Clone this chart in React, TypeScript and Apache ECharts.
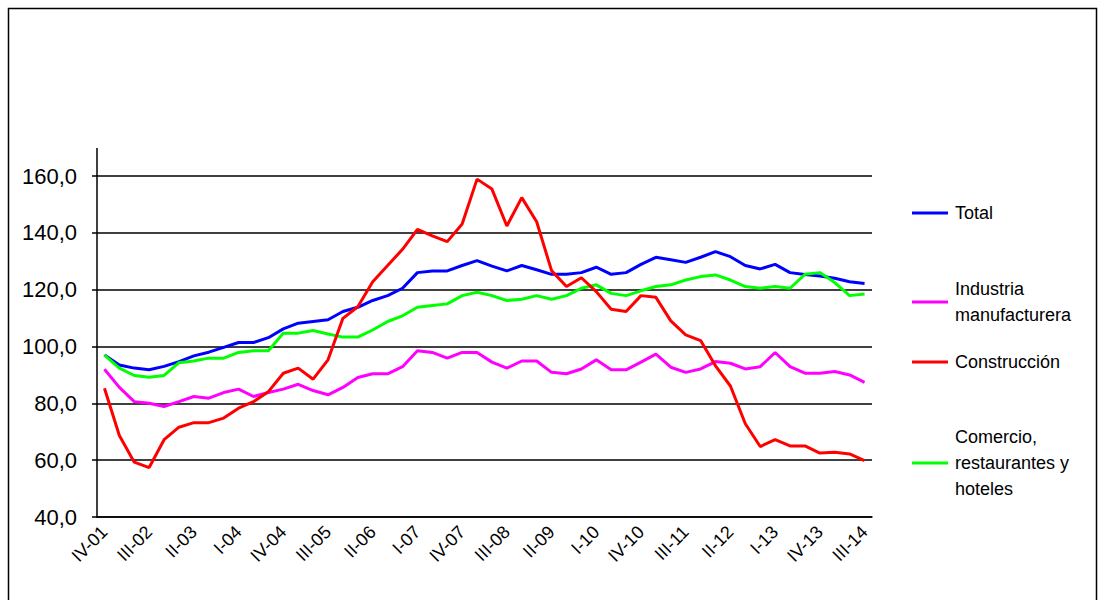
import React, { useEffect, useRef } from "react";
import * as echarts from "echarts";

const quarters: string[] = [];
const romans = ["I", "II", "III", "IV"];
for (let y = 1; y <= 14; y++) for (let q = 0; q < 4; q++) quarters.push(`${romans[q]}-${String(y).padStart(2, "0")}`);
const categories = quarters.slice(3, 3 + 52);

const total = [97, 93.5, 92.4, 91.8, 93, 94.7, 96.7, 98, 99.7, 101.4, 101.4, 103.1, 106.2, 108.2, 108.8, 109.4, 112.3, 113.8, 116.2, 117.9, 120.5, 126, 126.6, 126.6, 128.5, 130.2, 128.3, 126.6, 128.5, 127, 125.4, 125.4, 126, 127.9, 125.4, 126, 128.9, 131.4, 130.5, 129.6, 131.4, 133.4, 131.6, 128.5, 127.3, 128.9, 126, 125.3, 124.8, 124, 122.8, 122.2];
const industria = [92, 85.6, 80.6, 80, 78.9, 80.6, 82.4, 81.8, 83.8, 85, 82.4, 83.8, 85, 86.7, 84.5, 83, 85.6, 89.1, 90.4, 90.4, 92.9, 98.5, 97.9, 95.9, 97.9, 97.9, 94.5, 92.4, 94.9, 94.9, 90.9, 90.4, 92.1, 95.3, 91.8, 91.8, 94.5, 97.3, 92.7, 90.9, 92.1, 94.7, 94.1, 92.1, 92.9, 97.9, 92.9, 90.6, 90.6, 91.2, 90, 87.4];
const construccion = [85.3, 68.7, 59.3, 57.4, 67.2, 71.6, 73.2, 73.2, 74.8, 78.3, 80.6, 84.1, 90.6, 92.4, 88.5, 95.3, 109.9, 114, 122.8, 128.5, 134.2, 141.2, 138.9, 136.9, 143.1, 158.9, 155.4, 142.4, 152.4, 143.9, 126.7, 121.1, 124.2, 119.3, 113.1, 112.3, 117.9, 117.3, 109, 104.1, 102.1, 93.2, 86.1, 72.8, 64.8, 67.2, 65, 65, 62.5, 62.8, 62.2, 59.8];
const comercio = [97, 92.4, 89.8, 89.2, 89.8, 94.3, 94.9, 95.9, 95.9, 97.9, 98.5, 98.5, 104.7, 104.7, 105.6, 104.4, 103.3, 103.3, 105.8, 108.8, 110.8, 113.8, 114.4, 115, 117.9, 119.1, 117.9, 116.2, 116.6, 117.9, 116.6, 117.9, 120.5, 121.7, 118.7, 117.9, 119.6, 121.1, 121.7, 123.4, 124.6, 125.2, 123.4, 121.1, 120.5, 121.1, 120.5, 125.4, 126, 122.5, 117.9, 118.5];

const seriesNames = ["Total", "Industria\nmanufacturera", "Construcción", "Comercio,\nrestaurantes y\nhoteles"];
const seriesColors = ["#0000ff", "#ff00ff", "#ff0000", "#00ff00"];
const seriesData = [total, industria, construccion, comercio];
const legendY = [213, 302, 362, 463];

export default function App() {
  const ref = useRef<HTMLDivElement>(null);
  useEffect(() => {
    const chart = echarts.init(ref.current!, null, { renderer: "svg" });
    const font = "Liberation Sans, Arial, sans-serif";
    const graphic: any[] = [
      { type: "rect", shape: { x: 8.5, y: 8.5, width: 1088, height: 600 }, style: { fill: "none", stroke: "#000", lineWidth: 1.5 } },
      { type: "line", shape: { x1: 97, y1: 148, x2: 97, y2: 176 }, style: { stroke: "#000", lineWidth: 1.5 } },
    ];
    seriesNames.forEach((n, i) => {
      graphic.push({ type: "line", shape: { x1: 912, y1: legendY[i], x2: 948, y2: legendY[i] }, style: { stroke: seriesColors[i], lineWidth: 3 } });
      graphic.push({ type: "text", x: 955, y: legendY[i], style: { text: n, fill: "#000", font: `18px ${font}`, verticalAlign: "middle", lineHeight: 26 } });
    });
    chart.setOption({
      animation: false,
      grid: { left: 97, right: 227, top: 176, bottom: 83 },
      xAxis: {
        type: "category",
        data: categories,
        boundaryGap: true,
        axisLine: { lineStyle: { color: "#000", width: 1.5 } },
        axisTick: { interval: 0, length: 5, lineStyle: { color: "#000", width: 1.5 } },
        axisLabel: { interval: 2, rotate: 45, color: "#000", fontSize: 18, fontFamily: font, margin: 12 },
      },
      yAxis: {
        type: "value",
        min: 40,
        max: 160,
        interval: 20,
        axisLine: { show: true, lineStyle: { color: "#000", width: 1.5 } },
        axisTick: { show: true, length: 5, lineStyle: { color: "#000", width: 1.5 } },
        axisLabel: { color: "#000", fontSize: 22, fontFamily: font, margin: 20, formatter: (v: number) => v.toFixed(1).replace(".", ",") },
        splitLine: { lineStyle: { color: "#000", width: 1.5 } },
      },
      series: seriesData.map((d, i) => ({
        type: "line",
        name: seriesNames[i],
        data: d,
        symbol: "none",
        lineStyle: { color: seriesColors[i], width: 3 },
        z: i === 2 ? 5 : 3,
      })),
      graphic,
    });
    return () => chart.dispose();
  }, []);
  return <div ref={ref} style={{ position: "absolute", left: 0, top: 0, width: 1099, height: 600, background: "#fff" }} />;
}
